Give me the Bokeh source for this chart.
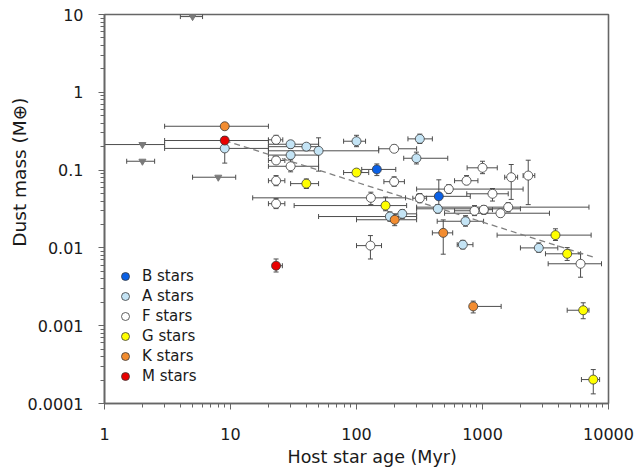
from bokeh.plotting import figure
from bokeh.models import (ColumnDataSource, Whisker, TeeHead, FixedTicker,
                          CustomJSTickFormatter, Legend, LegendItem, Title)
from bokeh.embed import file_html
from bokeh.resources import INLINE

# ---------------- data ----------------
# B stars
b_age     = [145, 450]
b_age_lo  = [110, 300]
b_age_hi  = [205, 800]
b_mass    = [0.102, 0.046]
b_mass_lo = [0.085, 0.031]
b_mass_hi = [0.12, 0.075]

# A stars
a_age     = [9, 30, 40, 50, 30, 100, 318, 299, 442, 184, 231, 733, 698, 2797]
a_age_lo  = [3, 20, 20, 20, 20, 79, 256, 237, 300, 50, 180, 437, 630, 2000]
a_age_hi  = [20, 50, 50, 150, 50, 118, 400, 530, 2000, 300, 300, 1020, 840, 3960]
a_mass    = [0.19, 0.215, 0.2, 0.177, 0.156, 0.235, 0.252, 0.142, 0.0318, 0.0253, 0.0274, 0.022, 0.011, 0.010]
a_mass_lo = [0.123, 0.19, 0.18, 0.097, 0.14, 0.2, 0.22, 0.12, 0.028, 0.022, 0.024, 0.019, 0.0097, 0.0088]
a_mass_hi = [0.25, 0.24, 0.22, 0.26, 0.175, 0.28, 0.29, 0.17, 0.036, 0.029, 0.031, 0.026, 0.0125, 0.0116]

# F stars
f_age     = [23, 23, 30, 23, 23, 199, 199, 130, 318, 1000, 747, 540, 1690, 2306, 1200, 864, 1024, 1389, 1600, 129, 6000]
f_age_lo  = [20, 20, 20, 20, 20, 150, 165, 15, 280, 755, 600, 300, 1500, 2100, 750, 600, 900, 500, 300, 100, 3320]
f_age_hi  = [26, 27, 50, 27, 27, 300, 240, 245, 360, 1310, 920, 2100, 1900, 2600, 1600, 1100, 1200, 3400, 7000, 158, 8800]
f_mass    = [0.245, 0.133, 0.112, 0.073, 0.037, 0.188, 0.071, 0.044, 0.0435, 0.107, 0.073, 0.057, 0.081, 0.085, 0.0496, 0.030, 0.031, 0.0279, 0.0334, 0.0107, 0.00625]
f_mass_lo = [0.22, 0.12, 0.095, 0.063, 0.032, 0.17, 0.062, 0.036, 0.038, 0.09, 0.065, 0.05, 0.042, 0.036, 0.04, 0.026, 0.027, 0.025, 0.029, 0.0072, 0.0042]
f_mass_hi = [0.28, 0.15, 0.135, 0.085, 0.043, 0.21, 0.082, 0.052, 0.05, 0.13, 0.085, 0.065, 0.118, 0.134, 0.058, 0.035, 0.035, 0.031, 0.038, 0.0144, 0.0084]

# G stars
g_age     = [40, 100, 170, 3795, 4700, 6300, 7570]
g_age_lo  = [30, 79, 32, 1306, 3160, 4700, 6100]
g_age_hi  = [50, 125, 250, 7280, 6000, 7000, 8500]
g_mass    = [0.067, 0.093, 0.035, 0.0146, 0.0084, 0.00158, 0.000203]
g_mass_lo = [0.058, 0.085, 0.03, 0.01245, 0.0069, 0.00123, 0.000133]
g_mass_hi = [0.077, 0.1, 0.045, 0.0176, 0.0101, 0.00197, 0.000273]

# K stars
k_age     = [9, 201, 488, 844]
k_age_lo  = [3, 100, 400, 830]
k_age_hi  = [20, 300, 580, 1406]
k_mass    = [0.366, 0.023, 0.0156, 0.00177]
k_mass_lo = [0.366, 0.0193, 0.0083, 0.00146]
k_mass_hi = [0.366, 0.027, 0.0229, 0.00207]

# M stars
m_age     = [9, 23]
m_age_lo  = [3, 21.5]
m_age_hi  = [20, 25.8]
m_mass    = [0.24, 0.0059]
m_mass_lo = [0.215, 0.0049]
m_mass_hi = [0.27, 0.0072]

# upper limits (grey triangles)
u_age     = [5, 2, 2, 8]
u_age_lo  = [4, 1, 1.5, 5]
u_age_hi  = [6, 3, 2.5, 11]
u_mass    = [9.4, 0.213, 0.13, 0.081]

# dashed trend line end points
trend_age  = [9, 7600]
trend_mass = [0.24, 0.0076]

x_ticks = [1, 10, 100, 1000, 10000]
y_ticks = [0.0001, 0.001, 0.01, 0.1, 1, 10]

classes = [
    ("B stars", "#0a60e6", b_age, b_age_lo, b_age_hi, b_mass, b_mass_lo, b_mass_hi),
    ("A stars", "#c4e4f5", a_age, a_age_lo, a_age_hi, a_mass, a_mass_lo, a_mass_hi),
    ("F stars", "#ffffff", f_age, f_age_lo, f_age_hi, f_mass, f_mass_lo, f_mass_hi),
    ("G stars", "#ffff00", g_age, g_age_lo, g_age_hi, g_mass, g_mass_lo, g_mass_hi),
    ("K stars", "#f28c30", k_age, k_age_lo, k_age_hi, k_mass, k_mass_lo, k_mass_hi),
    ("M stars", "#e80000", m_age, m_age_lo, m_age_hi, m_mass, m_mass_lo, m_mass_hi),
]

FONT = "DejaVu Sans"
AXC = "#666666"
ERRC = "#4d4d4d"

p = figure(width=637, height=472, x_axis_type="log", y_axis_type="log",
           x_range=(1, 10000), y_range=(0.0001, 10),
           output_backend="svg", toolbar_location=None,
           min_border_left=104, min_border_right=29, min_border_top=14, min_border_bottom=69)
p.xgrid.visible = False
p.ygrid.visible = False
p.outline_line_color = AXC
p.outline_line_width = 1.6
p.background_fill_color = "white"

fmt = CustomJSTickFormatter(code="""
const d = Math.max(0, -Math.round(Math.log10(tick)));
return tick.toFixed(d);
""")
x_minor = [m * 10 ** k for k in range(0, 4) for m in range(2, 10)]
y_minor = [m * 10.0 ** k for k in range(-4, 1) for m in range(2, 10)]
p.xaxis.ticker = FixedTicker(ticks=x_ticks, minor_ticks=x_minor)
p.yaxis.ticker = FixedTicker(ticks=y_ticks, minor_ticks=y_minor)
for ax in (p.xaxis[0], p.yaxis[0]):
    ax.formatter = fmt
    ax.axis_line_color = AXC
    ax.axis_line_width = 1.6
    ax.major_tick_line_color = AXC
    ax.minor_tick_line_color = AXC
    ax.major_tick_in = 0
    ax.major_tick_out = 6
    ax.minor_tick_in = 0
    ax.minor_tick_out = 4
    ax.major_label_text_font = FONT
    ax.major_label_text_font_size = "16px"
    ax.major_label_text_color = "#1a1a1a"
p.yaxis.major_label_standoff = 15
p.xaxis.major_label_standoff = 18

xtitle = Title(text="Host star age (Myr)", align="left", offset=183,
               text_font=FONT, text_font_size="17.5px", text_font_style="normal",
               text_color="#1a1a1a", standoff=5)
p.add_layout(xtitle, "below")

ytitle = Title(text="Dust mass (M\u2295)", align="right", offset=83,
               text_font=FONT, text_font_size="18.5px", text_font_style="normal",
               text_color="#1a1a1a", standoff=-10)
p.add_layout(ytitle, "left")


def add_whiskers(src, vertical=True):
    if vertical:
        w = Whisker(base="age", lower="mass_lo", upper="mass_hi", dimension="height", source=src,
                    line_color=ERRC, line_width=1,
                    upper_head=TeeHead(size=5, line_color=ERRC, line_width=1),
                    lower_head=TeeHead(size=5, line_color=ERRC, line_width=1))
        p.add_layout(w)
    w2 = Whisker(base="mass", lower="age_lo", upper="age_hi", dimension="width", source=src,
                 line_color=ERRC, line_width=1,
                 upper_head=TeeHead(size=5, line_color=ERRC, line_width=1),
                 lower_head=TeeHead(size=5, line_color=ERRC, line_width=1))
    p.add_layout(w2)


# upper limits
usrc = ColumnDataSource(dict(age=u_age, age_lo=u_age_lo, age_hi=u_age_hi, mass=u_mass))
add_whiskers(usrc, vertical=False)

sources = []
for name, col, age, alo, ahi, mass, mlo, mhi in classes:
    src = ColumnDataSource(dict(age=age, age_lo=alo, age_hi=ahi, mass=mass, mass_lo=mlo, mass_hi=mhi))
    add_whiskers(src)
    sources.append((name, col, src))

p.line(trend_age, trend_mass, line_dash="6 4", line_color="#808080", line_width=1.3)

p.scatter("age", "mass", source=usrc, marker="inverted_triangle", size=7,
          fill_color="#7a7a7a", line_color="#7a7a7a")

items = []
for name, col, src in sources:
    r = p.scatter("age", "mass", source=src, marker="circle", size=9,
                  fill_color=col, line_color="#3a3a3a", line_width=0.8)
    items.append(LegendItem(label=name, renderers=[r]))

legend = Legend(items=items, location=(10, 17), padding=0, margin=0, spacing=0,
                glyph_height=20, glyph_width=22, label_height=18, label_standoff=6,
                label_text_font=FONT, label_text_font_size="15px", label_text_color="#1a1a1a",
                background_fill_alpha=0, border_line_alpha=0)
p.add_layout(legend)

open("out.html", "w").write(file_html(p, INLINE))
